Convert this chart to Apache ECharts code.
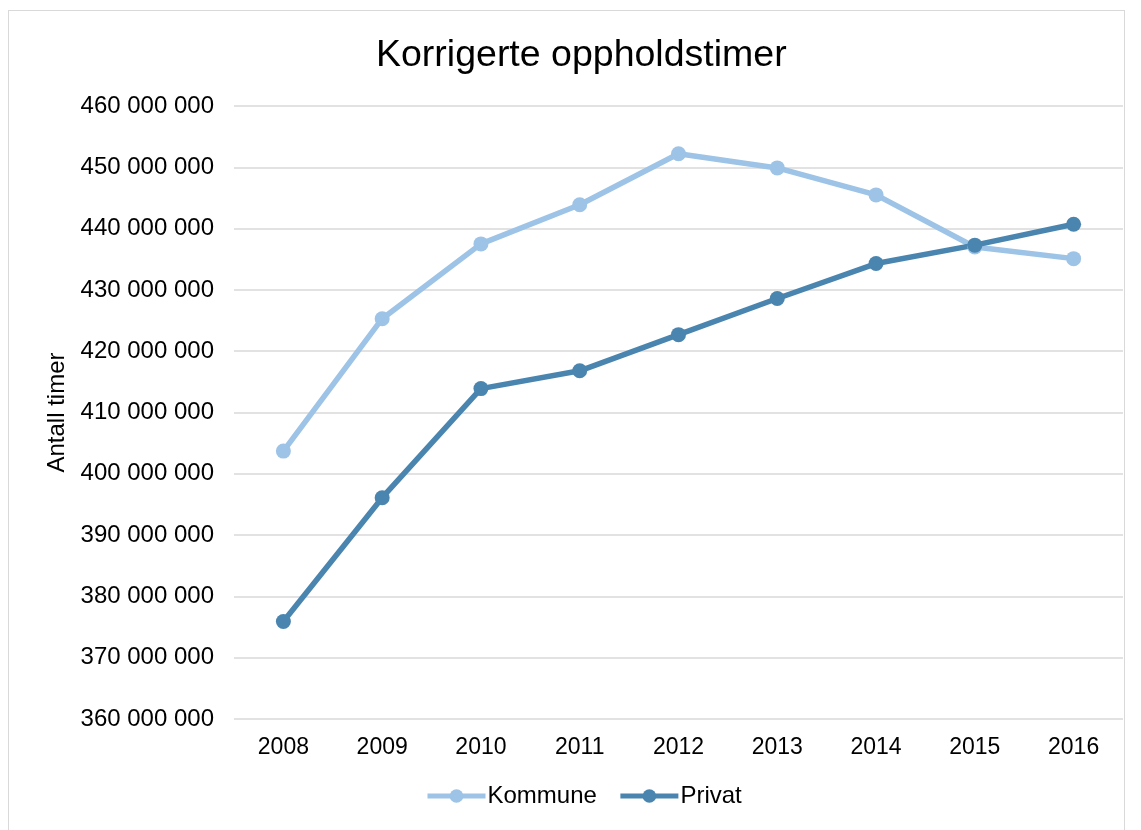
<!DOCTYPE html>
<html>
<head>
<meta charset="utf-8">
<script src="https://cdn.jsdelivr.net/npm/echarts@6/dist/echarts.min.js"></script>
<style>
  html, body { margin: 0; padding: 0; background: #fff; }
  .frame {
    position: absolute; left: 8px; top: 10px;
    width: 1117px; height: 840px;
    border: 1px solid #d9d9d9; box-sizing: border-box;
  }
  #chart { position: absolute; left: 0; top: 0; width: 1141px; height: 830px; }
</style>
</head>
<body>
<div class="frame"></div>
<div id="chart"></div>
<script>
// årstall
var years = ['2008', '2009', '2010', '2011', '2012', '2013', '2014', '2015', '2016'];
// korrigerte oppholdstimer
var kommune = [403700000, 425300000, 437500000, 443900000, 452200000, 449900000, 445500000, 437000000, 435100000];
var privat = [375900000, 396100000, 413900000, 416800000, 422700000, 428600000, 434300000, 437300000, 440700000];

var chart = echarts.init(document.getElementById('chart'));

function fmt(v) {
  return String(v).replace(/\B(?=(\d{3})+(?!\d))/g, ' ');
}

var option = {
  animation: false,
  textStyle: { fontFamily: 'Liberation Sans, Arial, sans-serif' },
  title: {
    text: 'Korrigerte oppholdstimer',
    left: 371,
    top: 32,
    textStyle: { fontSize: 37.5, fontWeight: 'normal', color: '#000' }
  },
  legend: {
    bottom: 17,
    left: 420,
    itemWidth: 58,
    itemHeight: 17,
    itemGap: 21,
    textStyle: { fontSize: 24, color: '#000', padding: [0, 0, 0, -3] },
    lineStyle: { width: 5 },
    data: ['Kommune', 'Privat']
  },
  grid: { left: 234, right: 18, top: 106, bottom: 111 },
  xAxis: {
    type: 'category',
    data: years,
    axisLine: { show: false },
    axisTick: { show: false },
    axisLabel: { color: '#000', fontSize: 23, margin: 17 }
  },
  yAxis: {
    type: 'value',
    min: 360000000,
    max: 460000000,
    interval: 10000000,
    name: 'Antall timer',
    nameLocation: 'middle',
    nameGap: 164,
    nameTextStyle: { color: '#000', fontSize: 24 },
    axisLine: { show: false },
    axisTick: { show: false },
    splitLine: { lineStyle: { color: '#d9d9d9', width: 1.5 } },
    axisLabel: { color: '#000', fontSize: 24, margin: 20, formatter: fmt }
  },
  series: [
    {
      name: 'Kommune',
      type: 'line',
      data: kommune,
      symbol: 'circle',
      symbolSize: 15,
      color: '#9DC3E6',
      lineStyle: { width: 5.5, color: '#9DC3E6' },
      itemStyle: { color: '#9DC3E6' }
    },
    {
      name: 'Privat',
      type: 'line',
      data: privat,
      symbol: 'circle',
      symbolSize: 15,
      color: '#4A85B0',
      lineStyle: { width: 5.5, color: '#4A85B0' },
      itemStyle: { color: '#4A85B0' }
    }
  ]
};

chart.setOption(option);
</script>
</body>
</html>
